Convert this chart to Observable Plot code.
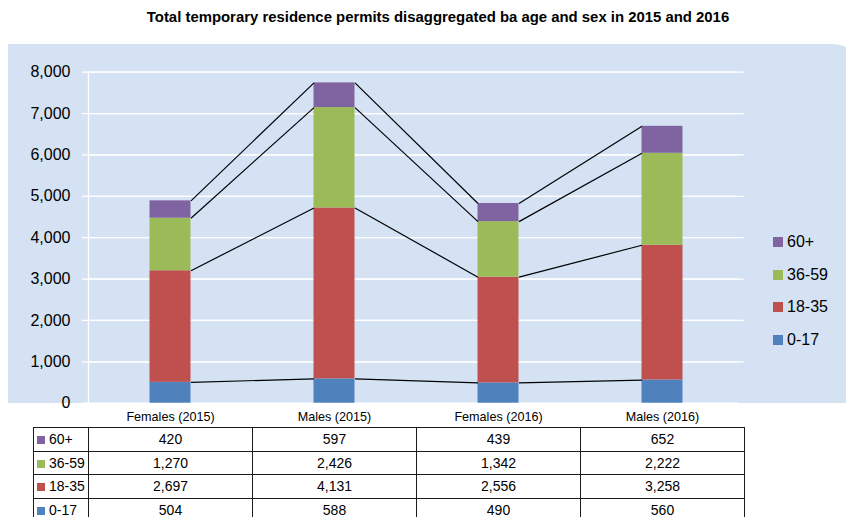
<!DOCTYPE html>
<html>
<head>
<meta charset="utf-8">
<script src="https://cdn.jsdelivr.net/npm/d3@7"></script>
<script src="https://cdn.jsdelivr.net/npm/@observablehq/plot@0.6"></script>
<style>
  html, body { margin: 0; padding: 0; background: #fff; }
  #wrap { position: relative; width: 846px; height: 517px; overflow: hidden; background: #fff;
          font-family: "Liberation Sans", Arial, sans-serif; color: #000; }
  #panel { position: absolute; left: 8px; top: 44px; width: 860px; height: 359px;
           background: #D4E2F4; border-top-right-radius: 36px; }
  #title { position: absolute; top: 9px; left: 438px; transform: translateX(-50%);
           white-space: nowrap; font-weight: bold; font-size: 14.9px; }
  #chart { position: absolute; left: 0; top: 0; }
  #legend { position: absolute; left: 773px; top: 233px; font-size: 16px; }
  #legend .item { height: 32.7px; display: flex; align-items: flex-start; }
  #legend .sw { width: 10px; height: 10px; margin-top: 4px; margin-right: 4px; }
  #table { position: absolute; left: 33px; top: 427px; border-collapse: collapse; font-size: 14px;
           table-layout: fixed; width: 711px; }
  #table tr { height: 23.5px; }
  #table td { border: 1.5px solid #1a1a1a; padding: 0; text-align: center; overflow: hidden; }
  #table td.lab { text-align: left; padding-left: 3px; white-space: nowrap; }
  #table .sq { display: inline-block; width: 8px; height: 8px; margin-right: 4px; vertical-align: 0px; }
</style>
</head>
<body>
<div id="wrap">
  <div id="panel"></div>
  <div id="title"></div>
  <div id="chart"></div>
  <div id="legend"></div>
  <table id="table">
    <colgroup><col style="width:55px"><col style="width:164px"><col style="width:164px"><col style="width:164px"><col style="width:164px"></colgroup>
    <tbody id="tbody"></tbody>
  </table>
</div>
<script>
// ---- data ----
const title = "Total temporary residence permits disaggregated ba age and sex in 2015 and 2016";
const categories = ["Females (2015)", "Males (2015)", "Females (2016)", "Males (2016)"];
const ageGroups = ["0-17", "18-35", "36-59", "60+"];
const age0_17 = [504, 588, 490, 560];
const age18_35 = [2697, 4131, 2556, 3258];
const age36_59 = [1270, 2426, 1342, 2222];
const age60plus = [420, 597, 439, 652];
const yTicks = [0, 1000, 2000, 3000, 4000, 5000, 6000, 7000, 8000];
const colors = ["#4F81BD", "#C0504D", "#9BBB59", "#8064A2"];

const series = [age0_17, age18_35, age36_59, age60plus];
const fmt = d3.format(",");

// stacked rows
const rects = [];
const tops = []; // tops[k][i]
series.forEach(() => tops.push([]));
categories.forEach((c, i) => {
  let acc = 0;
  series.forEach((s, k) => {
    rects.push({ i, group: ageGroups[k], y1: acc, y2: acc + s[i] });
    acc += s[i];
    tops[k].push(acc);
  });
});
const half = 0.125;
const links = [];
tops.forEach((t) => {
  for (let i = 0; i < t.length - 1; i++) {
    links.push({ x1: i + half, x2: i + 1 - half, y1: t[i], y2: t[i + 1] });
  }
});

document.getElementById("title").textContent = title;

const chart = Plot.plot({
  width: 846,
  height: 517,
  marginLeft: 88,
  marginRight: 102,
  marginTop: 71.7,
  marginBottom: 114.3,
  style: { background: "transparent", fontFamily: "'Liberation Sans', Arial, sans-serif", color: "#000" },
  x: { type: "linear", domain: [-0.5, 3.5] },
  y: { domain: [0, 8000] },
  color: { domain: ageGroups, range: colors },
  marks: [
    Plot.ruleY(yTicks.slice(1), { stroke: "#fff", strokeWidth: 1.3 }),
    Plot.ruleY(yTicks, { stroke: "#fff", strokeWidth: 1.3, dx: -6 }),
    Plot.ruleX([-0.5], { y1: 0, y2: 8000, stroke: "#fff", strokeWidth: 1.3 }),
    Plot.rectY(rects, { x1: d => d.i - half, x2: d => d.i + half, y1: "y1", y2: "y2", fill: "group" }),
    Plot.link(links, { x1: "x1", x2: "x2", y1: "y1", y2: "y2", stroke: "#000", strokeWidth: 1.2 }),
    Plot.axisY({ ticks: yTicks, tickFormat: fmt, tickSize: 0, tickPadding: 18, fontSize: 16, label: null }),
    Plot.axisX({ ticks: [0, 1, 2, 3], tickFormat: i => categories[i], tickSize: 0, tickPadding: 9, fontSize: 12.6, label: null })
  ]
});
document.getElementById("chart").appendChild(chart);

// legend (top to bottom: 60+ first)
const legend = document.getElementById("legend");
for (let k = ageGroups.length - 1; k >= 0; k--) {
  const item = document.createElement("div");
  item.className = "item";
  item.innerHTML = `<div class="sw" style="background:${colors[k]}"></div><div>${ageGroups[k]}</div>`;
  legend.appendChild(item);
}

// data table
const tbody = document.getElementById("tbody");
for (let k = ageGroups.length - 1; k >= 0; k--) {
  const tr = document.createElement("tr");
  let html = `<td class="lab"><span class="sq" style="background:${colors[k]}"></span>${ageGroups[k]}</td>`;
  series[k].forEach(v => { html += `<td>${fmt(v)}</td>`; });
  tr.innerHTML = html;
  tbody.appendChild(tr);
}
</script>
</body>
</html>
